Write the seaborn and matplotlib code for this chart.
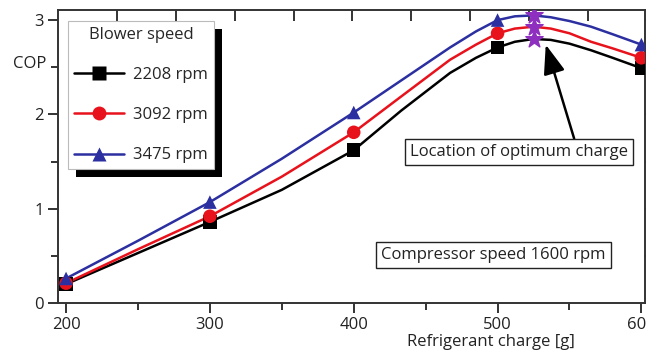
import numpy as np
import pandas as pd
import matplotlib
matplotlib.use("Agg")
import matplotlib.pyplot as plt
from matplotlib.lines import Line2D
from matplotlib.patches import Rectangle
from matplotlib.transforms import IdentityTransform
from matplotlib.ticker import MultipleLocator, FixedLocator
import seaborn as sns

# ---- data ----
speeds = ["2208 rpm", "3092 rpm", "3475 rpm"]
charge_marked = [200, 300, 400, 500, 600]
cop_2208 = [0.20, 0.86, 1.62, 2.71, 2.49]
cop_3092 = [0.21, 0.92, 1.81, 2.86, 2.60]
cop_3475 = [0.26, 1.07, 2.02, 3.00, 2.74]

charge_curve = [200, 250, 300, 350, 400, 433, 467, 485, 500, 512, 525, 537, 550, 565, 580, 600]
curve_2208 = [0.20, 0.53, 0.86, 1.20, 1.62, 2.04, 2.44, 2.60, 2.71, 2.77, 2.80, 2.79, 2.75, 2.68, 2.60, 2.49]
curve_3092 = [0.21, 0.57, 0.92, 1.34, 1.81, 2.19, 2.58, 2.74, 2.86, 2.91, 2.93, 2.91, 2.86, 2.77, 2.70, 2.60]
curve_3475 = [0.26, 0.66, 1.07, 1.53, 2.02, 2.36, 2.71, 2.88, 3.00, 3.04, 3.05, 3.03, 2.99, 2.93, 2.85, 2.74]

opt_charge = [525, 525, 525]
opt_cop = [2.80, 2.93, 3.05]

colors = {"2208 rpm": "#000000", "3092 rpm": "#e8121c", "3475 rpm": "#2b2fa0"}
markers = {"2208 rpm": "s", "3092 rpm": "o", "3475 rpm": "^"}

curves = pd.DataFrame({
    "charge": charge_curve * 3,
    "cop": curve_2208 + curve_3092 + curve_3475,
    "speed": [s for s in speeds for _ in charge_curve],
})
points = pd.DataFrame({
    "charge": charge_marked * 3,
    "cop": cop_2208 + cop_3092 + cop_3475,
    "speed": [s for s in speeds for _ in charge_marked],
})
opt = pd.DataFrame({"charge": opt_charge, "cop": opt_cop})

sns.set_theme(style="ticks")
plt.rcParams["font.family"] = ["Open Sans", "DejaVu Sans"]
FS = 12

fig = plt.figure(figsize=(6.46, 3.6), dpi=100)
ax = fig.add_axes([58 / 646, 1 - 303 / 360, 587 / 646, 293 / 360])

sns.lineplot(data=curves, x="charge", y="cop", hue="speed", palette=colors,
             linewidth=1.8, legend=False, ax=ax, zorder=2)
sns.scatterplot(data=points, x="charge", y="cop", hue="speed", style="speed",
                palette=colors, markers=markers, s=95, edgecolor="none",
                legend=False, ax=ax, zorder=3)
sns.scatterplot(data=opt, x="charge", y="cop", marker="*", s=170,
                color="#8e2fc0", edgecolor="#8e2fc0", legend=False, ax=ax, zorder=4)

ax.set_xlim(194.4, 602.5)
ax.set_ylim(0, 3.107)

for sp in ax.spines.values():
    sp.set_color("#333333")
    sp.set_linewidth(1.4)

ax.xaxis.set_major_locator(MultipleLocator(100))
ax.xaxis.set_minor_locator(MultipleLocator(50))
ax.yaxis.set_major_locator(MultipleLocator(1))
ax.yaxis.set_minor_locator(MultipleLocator(0.5))
ax.tick_params(axis="both", which="major", length=7, width=1.4, color="#333333",
               labelsize=FS, labelcolor="#222222", pad=3)
ax.tick_params(axis="both", which="minor", length=5, width=1.4, color="#333333")
ax.tick_params(axis="y", which="both", right=True, direction="out")

# top ticks (secondary scale in the source figure)
top = ax.secondary_xaxis("top")
top.xaxis.set_major_locator(FixedLocator(np.arange(235.5, 600, 40.9)))
top.tick_params(direction="in", length=8, width=1.4, color="#333333", labeltop=False)
top.spines["top"].set_visible(False)

ax.set_xlabel("Refrigerant charge [g]", fontsize=FS, color="#222222")
ax.xaxis.set_label_coords(0.737, -0.105)
ax.set_ylabel("COP", fontsize=FS, rotation=0, color="#222222")
ax.yaxis.set_label_coords(-0.048, 0.79)

# legend with heavy black drop shadow
handles = [Line2D([0], [0], color=colors[s], marker=markers[s], markersize=10,
                  linewidth=1.8, markeredgecolor="none") for s in speeds]
leg = ax.legend(handles, speeds, title="Blower speed", loc="upper left",
                bbox_to_anchor=(0.017, 0.962), borderaxespad=0,
                fontsize=FS, title_fontsize=FS,
                frameon=True, fancybox=False, edgecolor="#bbbbbb", framealpha=1,
                handlelength=3.0, labelspacing=1.45, borderpad=0.35,
                handletextpad=0.55)
leg.get_frame().set_linewidth(0.8)
leg.set_zorder(10)

ax.annotate("Location of optimum charge", xy=(533.5, 2.74), xytext=(515, 1.60),
            ha="center", va="center", fontsize=FS, color="#222222",
            bbox=dict(boxstyle="square,pad=0.3", fc="white", ec="#222222", lw=1),
            arrowprops=dict(arrowstyle="-|>,head_length=1.5,head_width=0.55",
                            color="black", lw=1.8, shrinkA=0, shrinkB=0,
                            relpos=(0.76, 1.0)), zorder=6)
ax.text(497, 0.51, "Compressor speed 1600 rpm", ha="center", va="center",
        fontsize=FS, color="#222222",
        bbox=dict(boxstyle="square,pad=0.3", fc="white", ec="#222222", lw=1), zorder=6)

fig.canvas.draw()
bb = leg.get_frame().get_window_extent()
ax.add_artist(Rectangle((bb.x0 + 8, bb.y0 - 8), bb.width, bb.height,
                        transform=IdentityTransform(), facecolor="black",
                        edgecolor="none", zorder=9))

fig.savefig("out.png", dpi=100)
